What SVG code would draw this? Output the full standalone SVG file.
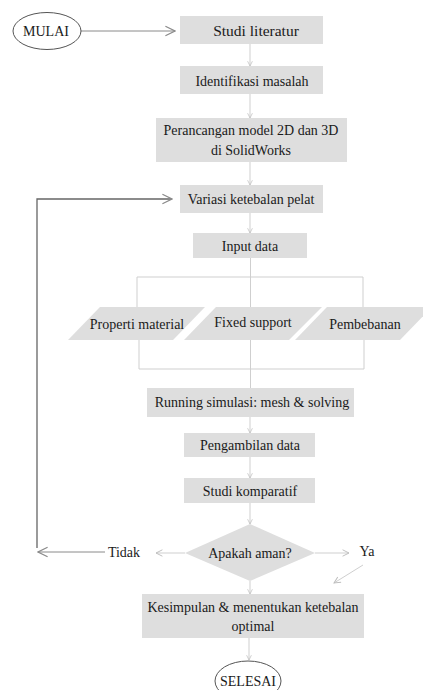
<svg xmlns="http://www.w3.org/2000/svg" width="423" height="690" viewBox="0 0 423 690">
<defs>
<style>
.box{fill:#dedede;stroke:none}
.t{font-family:'Liberation Serif','Times New Roman','DejaVu Serif',serif;font-size:14px;fill:#1a1a1a;text-anchor:middle}
.c{fill:none;stroke:#cfcfcf;stroke-width:1}
.cd{fill:none;stroke:#8a8a8a;stroke-width:1}
.fb{fill:none;stroke:#666;stroke-width:1.3}
.el{fill:#fff;stroke:#555;stroke-width:1}
</style>
<marker id="ah" viewBox="0 0 10 10" refX="9" refY="5" markerWidth="8" markerHeight="8" markerUnits="userSpaceOnUse" orient="auto">
<path d="M1,1 L9,5 L1,9" fill="none" stroke="#bdbdbd" stroke-width="1.2"/>
</marker>
<marker id="ahd" viewBox="0 0 10 10" refX="9" refY="5" markerWidth="12" markerHeight="12" markerUnits="userSpaceOnUse" orient="auto">
<path d="M1,1 L9,5 L1,9" fill="none" stroke="#8a8a8a" stroke-width="1"/>
</marker>
<marker id="ahs" viewBox="0 0 10 10" refX="9" refY="5" markerWidth="6" markerHeight="6" markerUnits="userSpaceOnUse" orient="auto">
<path d="M1,1 L9,5 L1,9" fill="none" stroke="#bdbdbd" stroke-width="1.2"/>
</marker>
</defs>
<rect width="423" height="690" fill="#fff"/>
<g id="connectors">
<line class="cd" x1="81" y1="31" x2="175" y2="31" marker-end="url(#ahd)"/>
<line class="c" x1="250" y1="44" x2="250" y2="66" marker-end="url(#ahs)"/>
<line class="c" x1="250" y1="94" x2="250" y2="118" marker-end="url(#ahs)"/>
<line class="c" x1="250" y1="162" x2="250" y2="185" marker-end="url(#ahs)"/>
<line class="c" x1="250" y1="213" x2="250" y2="233" marker-end="url(#ahs)"/>
<line class="c" x1="250.5" y1="258" x2="250.5" y2="307"/>
<polyline class="c" points="137,307 137,277 363,277 363,307"/>
<polyline class="c" points="139,340 139,369 364,369 364,340"/>
<line class="c" x1="250.5" y1="340" x2="250.5" y2="388"/>
<line class="c" x1="250" y1="417" x2="250" y2="433" marker-end="url(#ahs)"/>
<line class="c" x1="250" y1="457" x2="250" y2="478" marker-end="url(#ahs)"/>
<line class="c" x1="250" y1="503" x2="250" y2="524" marker-end="url(#ahs)"/>
<line class="c" x1="185" y1="553" x2="156" y2="553" marker-end="url(#ah)"/>
<line class="c" x1="315" y1="553" x2="349" y2="553" marker-end="url(#ah)"/>
<line class="c" x1="363" y1="565" x2="334" y2="583" marker-end="url(#ah)"/>
<line class="c" x1="250" y1="581" x2="250" y2="594" marker-end="url(#ahs)"/>
<line class="c" x1="249" y1="638" x2="249" y2="660" marker-end="url(#ahs)"/>
<line class="cd" x1="105" y1="552" x2="38" y2="552" marker-end="url(#ahd)"/>
<polyline class="fb" points="37,548 37,199 171,199"/>
<line class="cd" x1="160" y1="199" x2="172" y2="199" marker-end="url(#ahd)"/>
</g>
<g id="mulai">
<ellipse class="el" cx="47" cy="31" rx="34" ry="18.5"/>
<text class="t" x="46" y="36">MULAI</text>
</g>
<g id="studi-literatur">
<rect class="box" x="180" y="16" width="143" height="28"/>
<text class="t" x="256" y="36" style="font-size:15.5px">Studi literatur</text>
</g>
<g id="identifikasi">
<rect class="box" x="180" y="66" width="143" height="28"/>
<text class="t" x="252" y="86">Identifikasi masalah</text>
</g>
<g id="perancangan">
<rect class="box" x="156" y="118" width="191" height="44"/>
<text class="t" x="251" y="135">Perancangan model 2D dan 3D</text>
<text class="t" x="251" y="155">di SolidWorks</text>
</g>
<g id="variasi">
<rect class="box" x="180" y="185" width="143" height="28"/>
<text class="t" x="251" y="204">Variasi ketebalan pelat</text>
</g>
<g id="input-data">
<rect class="box" x="193" y="233" width="114" height="25"/>
<text class="t" x="250" y="251">Input data</text>
</g>
<g id="properti">
<polygon class="box" points="100,307 205,307 173,340 68,340"/>
<text class="t" x="137" y="329">Properti material</text>
</g>
<g id="fixed">
<polygon class="box" points="216,307 322,307 289,340 184,340"/>
<text class="t" x="253" y="327">Fixed support</text>
</g>
<g id="pembebanan">
<polygon class="box" points="327,307 432,307 400,340 295,340"/>
<text class="t" x="365" y="329">Pembebanan</text>
</g>
<g id="running">
<rect class="box" x="147" y="388" width="207" height="29"/>
<text class="t" x="252" y="407">Running simulasi: mesh &amp; solving</text>
</g>
<g id="pengambilan">
<rect class="box" x="184" y="433" width="131" height="24"/>
<text class="t" x="250" y="450">Pengambilan data</text>
</g>
<g id="komparatif">
<rect class="box" x="184" y="478" width="131" height="25"/>
<text class="t" x="250" y="496">Studi komparatif</text>
</g>
<g id="apakah">
<polygon class="box" points="250,524 315,553 250,581 185,553"/>
<text class="t" x="250" y="558">Apakah aman?</text>
</g>
<g id="tidak-label">
<text class="t" x="124" y="557">Tidak</text>
</g>
<g id="ya-label">
<text class="t" x="367" y="556">Ya</text>
</g>
<g id="kesimpulan">
<rect class="box" x="142" y="594" width="222" height="44"/>
<text class="t" x="253" y="612">Kesimpulan &amp; menentukan ketebalan</text>
<text class="t" x="253" y="631">optimal</text>
</g>
<g id="selesai">
<ellipse class="el" cx="248" cy="681" rx="33" ry="20"/>
<text class="t" x="248" y="686">SELESAI</text>
</g>
</svg>
